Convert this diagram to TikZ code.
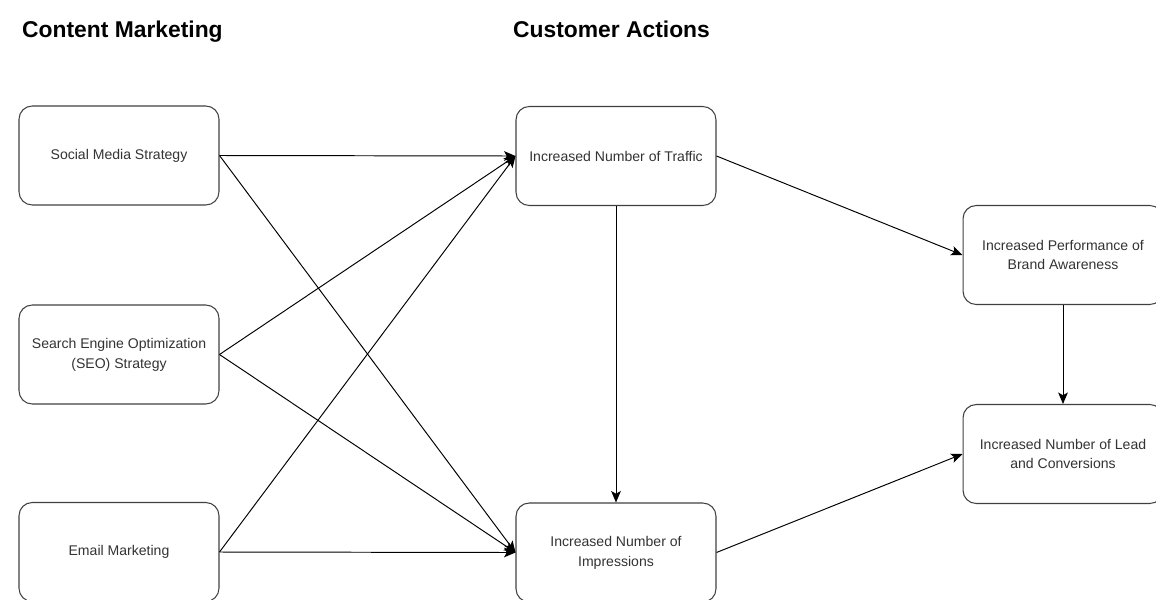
\documentclass[tikz,border=0pt]{standalone}
\usepackage{fontspec}
\setmainfont{Liberation Sans}
\usetikzlibrary{arrows.meta}

\begin{document}
\begin{tikzpicture}[x=0.02cm,y=-0.02cm,
    box/.style={draw=black!75,line width=0.6pt,rounded corners=7.5pt,
        minimum width=4cm,minimum height=1.98cm,inner sep=1pt,align=center,
        text=black!80,font=\fontsize{8}{11.3}\selectfont},
    heading/.style={anchor=base west,font=\fontsize{13}{16}\selectfont\bfseries},
    link/.style={line width=0.55pt,arrows={-Stealth[length=6.5pt,width=5.5pt,inset=1.5pt]}}]
                \useasboundingbox (0,0) rectangle (1156,599);

                \node[heading] (contentmkt) at (16,37) {Content Marketing};
                \node[heading] (custactions) at (507,37) {Customer Actions};

                \node[box] (social) at (119,155.5) {Social Media Strategy};
                \node[box] (seo) at (119,354.5) {Search Engine Optimization\\(SEO) Strategy};
                \node[box] (email) at (119,552) {Email Marketing};

                \node[box] (traffic) at (616,156) {Increased Number of Traffic};
                \node[box] (impressions) at (616,552.5) {Increased Number of\\Impressions};

                \node[box] (brand) at (1063,255) {Increased Performance of\\Brand Awareness};
                \node[box] (lead) at (1063,454) {Increased Number of Lead\\and Conversions};

                \foreach \src in {social,seo,email}{
                    \foreach \dst in {traffic,impressions}{
                        \draw[link] (\src.east) -- (\dst.west);
                }}

                \draw[link] (traffic.south) -- (impressions.north);
                \draw[link] (traffic.east) -- (brand.west);
                \draw[link] (impressions.east) -- (lead.west);
                \draw[link] (brand.south) -- (lead.north);
            \end{tikzpicture}
\end{document}
